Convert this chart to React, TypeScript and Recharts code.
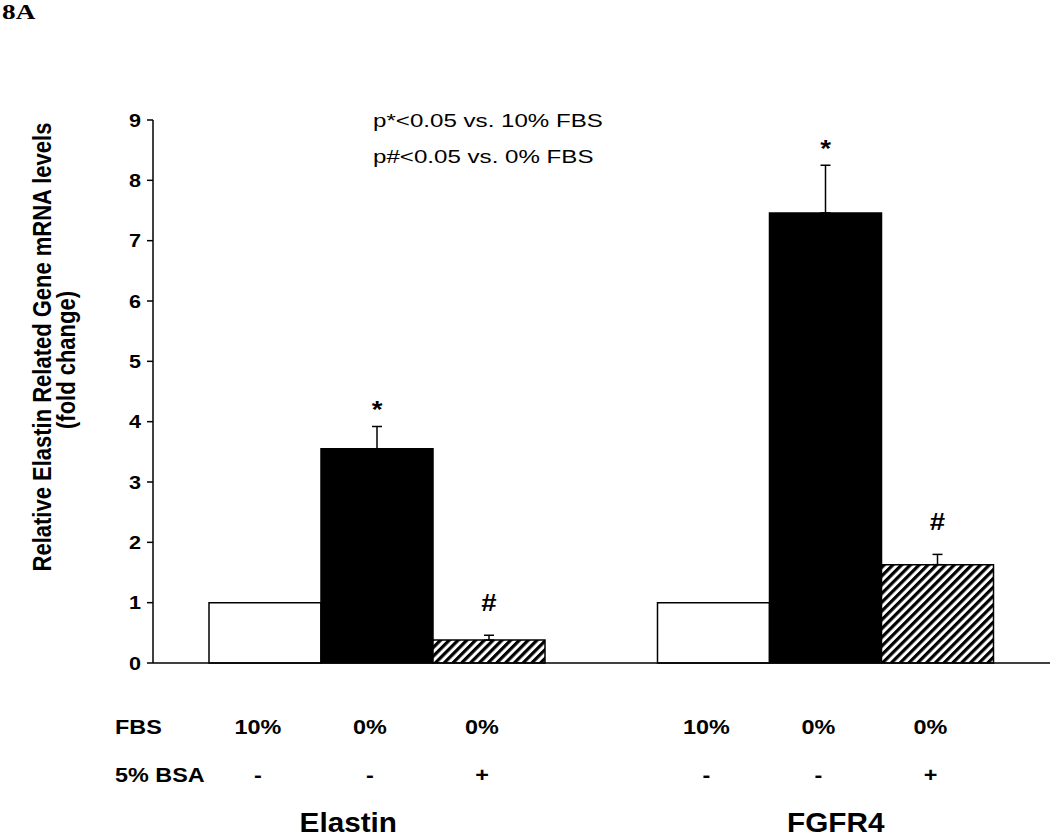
import React from "react";
import { BarChart, Bar, XAxis, YAxis, ErrorBar, LabelList } from "recharts";

// ---- data ----
const groups = ["Elastin", "FGFR4"];
const fbs10 = [1.0, 1.0];
const fbs0 = [3.55, 7.46];
const fbs0SE = [0.37, 0.79];
const fbs0Bsa = [0.38, 1.63];
const fbs0BsaSE = [0.08, 0.17];
const yTicks = [0, 1, 2, 3, 4, 5, 6, 7, 8, 9];
const fbsRow = ["10%", "0%", "0%"];
const bsaRow = ["-", "-", "+"];
const sigMarks = ["", "*", "#"];
const rowHeaders = ["FBS", "5% BSA"];
const notes = ["p*<0.05 vs. 10% FBS", "p#<0.05 vs. 0% FBS"];
const yLabelLines = ["Relative Elastin Related Gene mRNA levels", "(fold change)"];
const panelLabel = "8A";

const data = groups.map((g, i) => ({
  group: g,
  fbs10: fbs10[i],
  fbs0: fbs0[i],
  fbs0Err: [0, fbs0SE[i]],
  fbs0Bsa: fbs0Bsa[i],
  fbs0BsaErr: [0, fbs0BsaSE[i]],
}));

const SANS = "'Liberation Sans', Arial, sans-serif";
const SERIF = "'Liberation Serif', 'Times New Roman', serif";

const SText = ({ x, y, sx = 1, anchor = "start", size = 20, weight = "bold", family = SANS, children }: any) => (
  <text
    transform={`translate(${x},${y}) scale(${sx},1)`}
    textAnchor={anchor}
    fontSize={size}
    fontWeight={weight}
    fontFamily={family}
    fill="#000"
  >
    {children}
  </text>
);

const rowLabel = (text: string, baseline: number) => (props: any) => {
  const { x, width } = props;
  const cx = Number(x) + Number(width) / 2 - 7;
  return (
    <SText x={cx} y={baseline} sx={1.17} anchor="middle" size={20}>
      {text}
    </SText>
  );
};

const sigLabel = (mark: string, se: number[]) => (props: any) => {
  if (!mark) return null;
  const { x, y, width, height, value, index } = props;
  const v = Number(value);
  const i = typeof index === "number" ? index : 0;
  const errPx = v ? (Number(height) * se[i]) / v : 0;
  const errTop = Number(y) - errPx;
  const gap = mark === "*" ? 8 : 24;
  return (
    <SText x={Number(x) + Number(width) / 2} y={errTop - gap} sx={1.2} anchor="middle" size={23}>
      {mark}
    </SText>
  );
};

const YTick = (props: any) => {
  const { x, y, payload } = props;
  return (
    <SText x={x} y={Number(y) + 6.5} sx={1.2} anchor="end" size={18}>
      {payload.value}
    </SText>
  );
};

const GROUP_SHIFT = [-29, 10];
const GroupTick = (props: any) => {
  const { x, payload, index } = props;
  const shift = GROUP_SHIFT[index] ?? 0;
  return (
    <SText x={Number(x) + shift} y={832} sx={1.1} anchor="middle" size={27}>
      {payload.value}
    </SText>
  );
};

export default function App() {
  return (
    <div style={{ position: "absolute", left: 0, top: 0, width: 1050, height: 839, background: "#fff" }}>
      <svg width={1050} height={839} style={{ position: "absolute", left: 0, top: 0 }}>
        <defs>
          <pattern id="hatch" patternUnits="userSpaceOnUse" width="6.2" height="6.2" patternTransform="rotate(45)">
            <rect width="6.2" height="6.2" fill="#fff" />
            <rect width="3.2" height="6.2" fill="#000" />
          </pattern>
        </defs>
        <SText x={2} y={19} sx={1.3} size={21} family={SERIF}>
          {panelLabel}
        </SText>
        <text
          transform="translate(51,347) scale(1.15,1) rotate(-90)"
          textAnchor="middle"
          fontSize={22}
          fontWeight="bold"
          fontFamily={SANS}
          fill="#000"
        >
          {yLabelLines[0]}
        </text>
        <text
          transform="translate(75,360) scale(1.15,1) rotate(-90)"
          textAnchor="middle"
          fontSize={22}
          fontWeight="bold"
          fontFamily={SANS}
          fill="#000"
        >
          {yLabelLines[1]}
        </text>
        <SText x={373} y={127} sx={1.27} size={19} weight="normal">
          {notes[0]}
        </SText>
        <SText x={373} y={163} sx={1.27} size={19} weight="normal">
          {notes[1]}
        </SText>
        <SText x={115} y={734} sx={1.17} size={20}>
          {rowHeaders[0]}
        </SText>
        <SText x={115} y={782} sx={1.17} size={20}>
          {rowHeaders[1]}
        </SText>
      </svg>
      <div style={{ position: "absolute", left: 0, top: 0 }}>
        <BarChart
          width={1050}
          height={839}
          data={data}
          margin={{ top: 120, right: 0, bottom: 146, left: 0 }}
          barGap={0}
          barCategoryGap={56}
        >
          <XAxis
            dataKey="group"
            height={30}
            tickLine={false}
            axisLine={{ stroke: "#000", strokeWidth: 1.5 }}
            tick={<GroupTick />}
            interval={0}
          />
          <YAxis
            width={153}
            domain={[0, 9]}
            ticks={yTicks}
            interval={0}
            tickSize={6}
            tickMargin={6}
            tickLine={{ stroke: "#000", strokeWidth: 1.5 }}
            axisLine={{ stroke: "#000", strokeWidth: 1.5 }}
            tick={<YTick />}
          />
          <Bar dataKey="fbs10" fill="#fff" stroke="#000" strokeWidth={1.5} isAnimationActive={false}>
            <LabelList content={rowLabel(fbsRow[0], 734)} />
            <LabelList content={rowLabel(bsaRow[0], 782)} />
          </Bar>
          <Bar dataKey="fbs0" fill="#000" stroke="#000" strokeWidth={1.5} isAnimationActive={false}>
            <ErrorBar dataKey="fbs0Err" direction="y" width={5} stroke="#000" strokeWidth={1.5} />
            <LabelList content={rowLabel(fbsRow[1], 734)} />
            <LabelList content={rowLabel(bsaRow[1], 782)} />
            <LabelList content={sigLabel(sigMarks[1], fbs0SE)} />
          </Bar>
          <Bar dataKey="fbs0Bsa" fill="url(#hatch)" stroke="#000" strokeWidth={1.5} isAnimationActive={false}>
            <ErrorBar dataKey="fbs0BsaErr" direction="y" width={5} stroke="#000" strokeWidth={1.5} />
            <LabelList content={rowLabel(fbsRow[2], 734)} />
            <LabelList content={rowLabel(bsaRow[2], 782)} />
            <LabelList content={sigLabel(sigMarks[2], fbs0BsaSE)} />
          </Bar>
        </BarChart>
      </div>
    </div>
  );
}
